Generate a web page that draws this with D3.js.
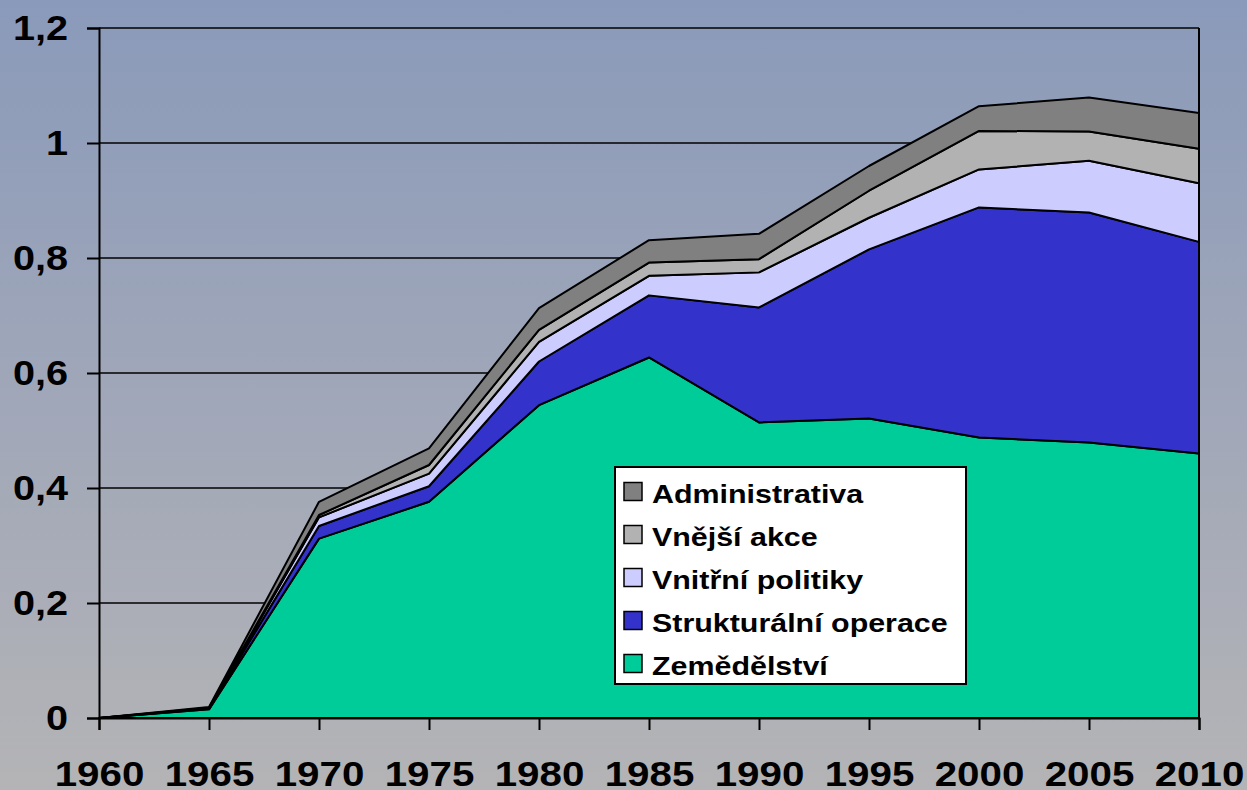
<!DOCTYPE html>
<html>

<head>
    <meta charset="utf-8">
    <style>
        body { margin: 0; }
        text { font-family: "Liberation Sans", Arial, sans-serif; font-weight: bold; fill: #000; }
        .grid line { stroke: #000; stroke-width: 1.5px; }
        .area { stroke: #000; stroke-width: 2px; stroke-linejoin: round; }
    </style>
</head>

<body>
    <script src="https://cdn.jsdelivr.net/npm/d3@7"></script>
    <script>
        // Years on the x axis
        var years = [1960, 1965, 1970, 1975, 1980, 1985, 1990, 1995, 2000, 2005, 2010];

        // Series values, bottom of the stack first
        var zemedelstvi = [0, 0.015, 0.312, 0.376, 0.544, 0.627, 0.514, 0.521, 0.488, 0.479, 0.460];
        var strukturalni = [0, 0.001, 0.022, 0.027, 0.076, 0.108, 0.200, 0.294, 0.400, 0.400, 0.368];
        var vnitrni = [0, 0.001, 0.015, 0.022, 0.034, 0.034, 0.061, 0.055, 0.066, 0.090, 0.102];
        var vnejsi = [0, 0.001, 0.004, 0.015, 0.021, 0.023, 0.023, 0.047, 0.067, 0.051, 0.060];
        var administrativa = [0, 0.001, 0.023, 0.029, 0.038, 0.039, 0.044, 0.043, 0.043, 0.059, 0.062];

        var seriesNames = ["Zemědělství", "Strukturální operace", "Vnitřní politiky", "Vnější akce", "Administrativa"];
        var seriesValues = [zemedelstvi, strukturalni, vnitrni, vnejsi, administrativa];
        var seriesColors = ["#00cc99", "#3333cc", "#ccccff", "#b2b2b2", "#808080"];

        var yTicks = [0, 0.2, 0.4, 0.6, 0.8, 1, 1.2];

        var W = 1247, H = 790;
        var plot = { left: 99, right: 1199, top: 28, bottom: 718 };

        var x = d3.scaleLinear().domain([1960, 2010]).range([plot.left, plot.right]);
        var y = d3.scaleLinear().domain([0, 1.2]).range([plot.bottom, plot.top]);

        // czech number format: decimal comma
        var cz = d3.formatLocale({ decimal: ",", thousands: " ", grouping: [3], currency: ["", " Kč"] });
        var fmt = cz.format(".1~f");

        var svg = d3.select("body").append("svg")
            .attr("width", W)
            .attr("height", H);

        // background gradient
        var defs = svg.append("defs");
        var grad = defs.append("linearGradient")
            .attr("id", "bg")
            .attr("x1", 0).attr("y1", 0).attr("x2", 0).attr("y2", 1);
        grad.append("stop").attr("offset", "0%").attr("stop-color", "#8a9aba");
        grad.append("stop").attr("offset", "55%").attr("stop-color", "#a2a8b8");
        grad.append("stop").attr("offset", "100%").attr("stop-color", "#b4b4b6");

        svg.append("rect")
            .attr("width", W)
            .attr("height", H)
            .attr("fill", "url(#bg)");

        // gridlines
        svg.append("g")
            .attr("class", "grid")
            .selectAll("line")
            .data(yTicks.filter(function (d) { return d > 0; }))
            .enter().append("line")
            .attr("x1", plot.left).attr("x2", plot.right)
            .attr("y1", function (d) { return y(d); })
            .attr("y2", function (d) { return y(d); });

        // right border of the plot
        svg.append("line")
            .attr("x1", plot.right).attr("x2", plot.right)
            .attr("y1", plot.top).attr("y2", plot.bottom)
            .attr("stroke", "#000").attr("stroke-width", 2);

        // stacked areas
        var table = years.map(function (yr, i) {
            var row = { year: yr };
            seriesNames.forEach(function (n, k) { row[n] = seriesValues[k][i]; });
            return row;
        });

        var stack = d3.stack().keys(seriesNames);
        var layers = stack(table);

        var area = d3.area()
            .x(function (d) { return x(d.data.year); })
            .y0(function (d) { return y(d[0]); })
            .y1(function (d) { return y(d[1]); });

        svg.append("g")
            .selectAll("path")
            .data(layers)
            .enter().append("path")
            .attr("class", "area")
            .attr("fill", function (d, i) { return seriesColors[i]; })
            .attr("d", area);

        // axes
        var yAxis = svg.append("g")
            .attr("transform", "translate(" + plot.left + ",0)")
            .call(d3.axisLeft(y).tickValues(yTicks).tickFormat(fmt).tickSize(12).tickPadding(19));

        var xAxis = svg.append("g")
            .attr("transform", "translate(0," + plot.bottom + ")")
            .call(d3.axisBottom(x).tickValues(years).tickFormat(d3.format("d")).tickSize(12).tickPadding(30));

        [yAxis, xAxis].forEach(function (ax) {
            ax.select(".domain").attr("stroke", "#000").attr("stroke-width", 2);
            ax.selectAll(".tick line").attr("stroke", "#000").attr("stroke-width", 2);
        });

        // labels are a little wider than plain Arial bold, stretch them
        yAxis.selectAll(".tick text")
            .style("font-size", "36px")
            .attr("transform", function () {
                var tx = +d3.select(this).attr("x");
                d3.select(this).attr("x", 0);
                return "translate(" + tx + ",0) scale(1.1,1)";
            });

        xAxis.selectAll(".tick text")
            .style("font-size", "36px")
            .attr("transform", "scale(1.12,1)");

        // legend
        var legend = svg.append("g")
            .attr("transform", "translate(615,467)");

        legend.append("rect")
            .attr("width", 351)
            .attr("height", 217)
            .attr("fill", "#fff")
            .attr("stroke", "#000")
            .attr("stroke-width", 2);

        var legendOrder = seriesNames.slice().reverse();

        var item = legend.selectAll(".item")
            .data(legendOrder)
            .enter().append("g")
            .attr("class", "item")
            .attr("transform", function (d, i) { return "translate(0," + (24.5 + i * 43) + ")"; });

        item.append("rect")
            .attr("x", 9)
            .attr("y", -9)
            .attr("width", 18)
            .attr("height", 18)
            .attr("fill", function (d) { return seriesColors[seriesNames.indexOf(d)]; })
            .attr("stroke", "#000")
            .attr("stroke-width", 1.5);

        item.append("text")
            .attr("transform", "translate(37,11) scale(1.17,1)")
            .style("font-size", "26px")
            .text(function (d) { return d; });
    </script>
</body>

</html>
